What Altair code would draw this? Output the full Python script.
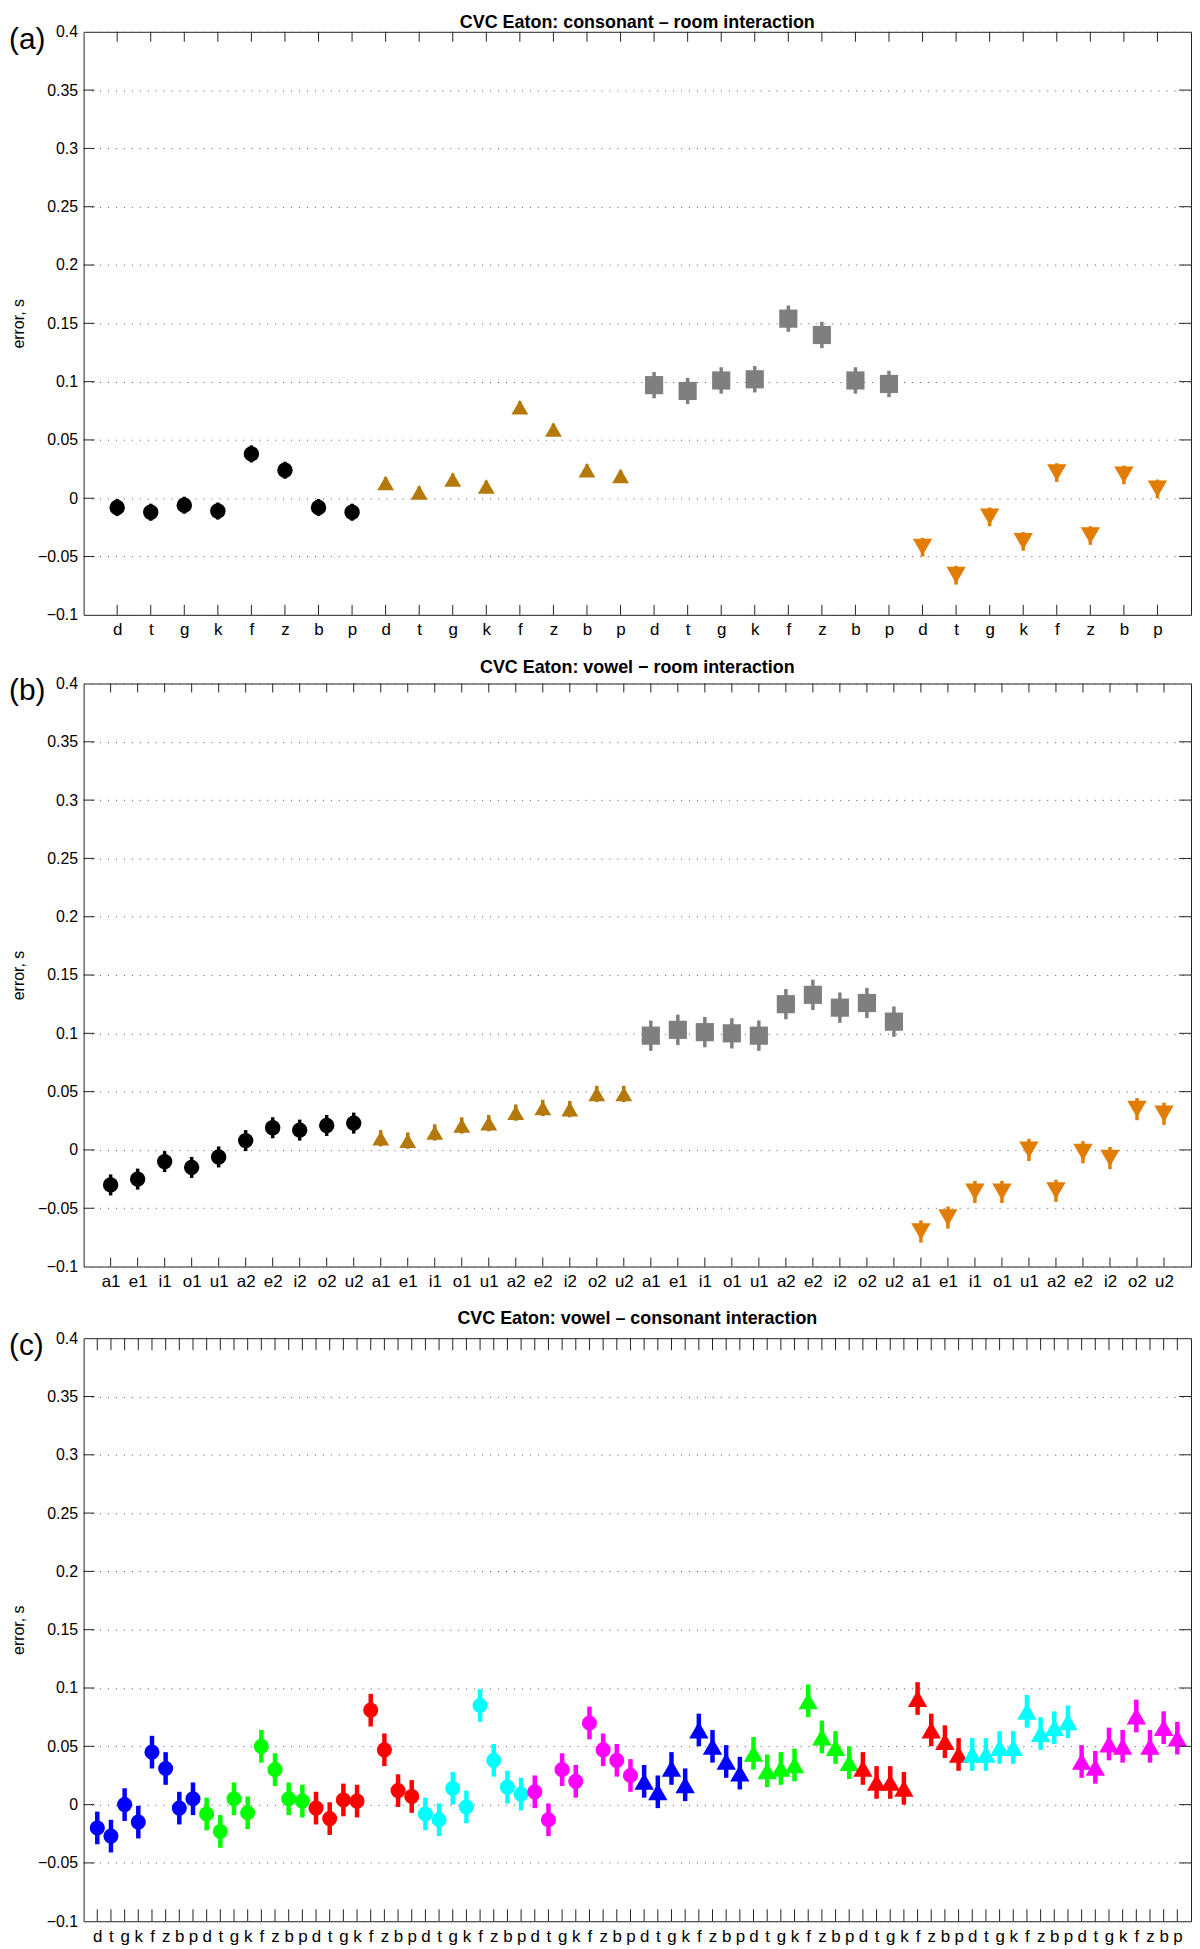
import altair as alt
import pandas as pd

FONT = "Liberation Sans"

# ---------------- Panel (a): consonant x room ----------------
cons = ["d", "t", "g", "k", "f", "z", "b", "p"]
a_series = ["room1", "room2", "room3", "room4"]
a_room1 = [-0.008, -0.012, -0.006, -0.011, 0.038, 0.024, -0.008, -0.012]
a_room2 = [0.013, 0.005, 0.016, 0.010, 0.078, 0.059, 0.024, 0.019]
a_room3 = [0.097, 0.092, 0.101, 0.102, 0.154, 0.140, 0.101, 0.098]
a_room4 = [-0.042, -0.066, -0.016, -0.037, 0.022, -0.032, 0.020, 0.008]
a_err = [0.0073, 0.005, 0.0113, 0.008]

# ---------------- Panel (b): vowel x room ----------------
vows = ["a1", "e1", "i1", "o1", "u1", "a2", "e2", "i2", "o2", "u2"]
b_room1 = [-0.030, -0.025, -0.010, -0.015, -0.006, 0.008, 0.019, 0.017, 0.021, 0.023]
b_room2 = [0.010, 0.008, 0.015, 0.021, 0.023, 0.032, 0.036, 0.035, 0.048, 0.048]
b_room3 = [0.098, 0.103, 0.101, 0.100, 0.098, 0.125, 0.133, 0.122, 0.126, 0.110]
b_room4 = [-0.070, -0.058, -0.036, -0.036, 0.000, -0.035, -0.002, -0.007, 0.035, 0.031]
b_err = [0.009, 0.007, 0.013, 0.0095]

# ---------------- Panel (c): vowel x consonant ----------------
c_a1 = [-0.020, -0.027, 0.000, -0.015, 0.045, 0.031, -0.003, 0.005]
c_e1 = [-0.008, -0.023, 0.005, -0.007, 0.050, 0.030, 0.005, 0.003]
c_i1 = [-0.003, -0.012, 0.004, 0.003, 0.081, 0.047, 0.012, 0.007]
c_o1 = [-0.008, -0.013, 0.014, -0.002, 0.085, 0.038, 0.015, 0.009]
c_u1 = [0.011, -0.013, 0.030, 0.020, 0.070, 0.047, 0.038, 0.025]
c_a2 = [0.020, 0.011, 0.031, 0.017, 0.064, 0.050, 0.037, 0.027]
c_e2 = [0.044, 0.029, 0.031, 0.034, 0.089, 0.058, 0.049, 0.036]
c_i2 = [0.031, 0.019, 0.019, 0.014, 0.091, 0.064, 0.054, 0.043]
c_o2 = [0.043, 0.043, 0.049, 0.049, 0.080, 0.061, 0.066, 0.071]
c_u2 = [0.037, 0.032, 0.052, 0.050, 0.076, 0.050, 0.066, 0.057]
c_err = 0.014

y_ticks = [-0.1, -0.05, 0, 0.05, 0.1, 0.15, 0.2, 0.25, 0.3, 0.35, 0.4]
y_inner = [-0.05, 0, 0.05, 0.1, 0.15, 0.2, 0.25, 0.3, 0.35]

W = 1113
H = 586


def build_ab(series_vals, errs, labels_per_group):
    rows = []
    n = len(labels_per_group)
    for g, (name, vals) in enumerate(zip(a_series, series_vals)):
        for i, v in enumerate(vals):
            rows.append({"idx": g * n + i + 1, "y": v, "lo": v - errs[g],
                         "hi": v + errs[g], "col": name, "shp": name})
    return pd.DataFrame(rows)


df_a = build_ab([a_room1, a_room2, a_room3, a_room4], a_err, cons)
df_b = build_ab([b_room1, b_room2, b_room3, b_room4], b_err, vows)

c_groups = [c_a1, c_e1, c_i1, c_o1, c_u1, c_a2, c_e2, c_i2, c_o2, c_u2]
rows = []
for g, (vname, vals) in enumerate(zip(vows, c_groups)):
    for i, v in enumerate(vals):
        rows.append({"idx": g * 8 + i + 1, "y": v, "lo": v - c_err, "hi": v + c_err,
                     "col": vname[0], "shp": vname[1]})
df_c = pd.DataFrame(rows)

ab_colors = ["#000000", "#B5780A", "#7F7F7F", "#E27D04"]
ab_shapes = ["circle", "triangle-up", "square", "triangle-down"]
ab_sizes = [240, 380, 215, 380]

c_colors = ["#0000FF", "#00FF00", "#FF0000", "#00FFFF", "#FF00FF"]


def panel(df, labels, title, tag, tick_len, title_y, err_w,
          col_dom, col_rng, shp_dom, shp_rng, size_rng, xfs):
    N = len(labels)
    xs = alt.Scale(domain=[0, N + 1], nice=False, zero=False)
    ys = alt.Scale(domain=[-0.1, 0.4], nice=False, zero=False)
    expr = "[" + ",".join("'%s'" % l for l in labels) + "][datum.value - 1]"
    xaxis = alt.Axis(values=list(range(1, N + 1)), labelExpr=expr, ticks=False,
                     domain=False, grid=False, labelFontSize=xfs, labelPadding=7,
                     labelOverlap=False, labelFlush=False, title=None)
    yaxis = alt.Axis(values=y_ticks, format="~g", ticks=False, domain=False,
                     grid=True, gridDash=[1, 7], gridColor="#555", gridWidth=1,
                     labelFontSize=16, labelPadding=6, title="error, s",
                     titleFontSize=16, titleFontWeight="normal", titlePadding=11)
    color = alt.Color("col:N", scale=alt.Scale(domain=col_dom, range=col_rng), legend=None)
    X = alt.X("idx:Q", scale=xs, axis=xaxis)
    base = alt.Chart(df)
    bars = base.mark_rule(strokeWidth=err_w).encode(
        x=X,
        y=alt.Y("lo:Q", scale=ys, axis=yaxis),
        y2="hi:Q",
        color=color,
    )
    pts = base.mark_point(filled=True, opacity=1, strokeWidth=0).encode(
        x=X,
        y=alt.Y("y:Q", scale=ys, axis=yaxis),
        color=color,
        shape=alt.Shape("shp:N", scale=alt.Scale(domain=shp_dom, range=shp_rng), legend=None),
        size=alt.Size("shp:N", scale=alt.Scale(domain=shp_dom, range=size_rng), legend=None),
    )
    tdf = pd.DataFrame({"idx": list(range(1, N + 1))})
    top = alt.Chart(tdf).mark_rule(color="#222", strokeWidth=1).encode(
        x=X, y=alt.value(0), y2=alt.value(tick_len))
    bot = alt.Chart(tdf).mark_rule(color="#222", strokeWidth=1).encode(
        x=X, y=alt.value(H - tick_len), y2=alt.value(H))
    ydf = pd.DataFrame({"v": y_inner})
    left = alt.Chart(ydf).mark_rule(color="#222", strokeWidth=1).encode(
        y=alt.Y("v:Q", scale=ys, axis=yaxis), x=alt.value(0), x2=alt.value(11))
    right = alt.Chart(ydf).mark_rule(color="#222", strokeWidth=1).encode(
        y=alt.Y("v:Q", scale=ys, axis=yaxis), x=alt.value(W - 12), x2=alt.value(W))
    tagc = alt.Chart(pd.DataFrame({"t": [tag]})).mark_text(
        align="left", baseline="middle", fontSize=30, font=FONT, color="black"
    ).encode(text="t:N", x=alt.value(-75), y=alt.value(8))
    ttl = alt.Chart(pd.DataFrame({"t": [title]})).mark_text(
        align="center", baseline="middle", fontSize=18, fontWeight="bold",
        font=FONT, color="black"
    ).encode(text="t:N", x=alt.value(W / 2), y=alt.value(title_y))
    return alt.layer(bars, pts, top, bot, left, right, tagc, ttl).properties(
        width=W, height=H)


pa = panel(df_a, cons * 4, "CVC Eaton: consonant \u2013 room interaction", "(a)", 10, -9,
           3.5, a_series, ab_colors, a_series, ab_shapes, ab_sizes, 17)
pb = panel(df_b, vows * 4, "CVC Eaton: vowel \u2212 room interaction", "(b)", 9, -16,
           3.5, a_series, ab_colors, a_series, ab_shapes, ab_sizes, 17)
pc = panel(df_c, cons * 10, "CVC Eaton: vowel \u2013 consonant interaction", "(c)", 12, -19,
           4.5, ["a", "e", "i", "o", "u"], c_colors, ["1", "2"], ["circle", "triangle-up"],
           [230, 380], 17)

chart = alt.vconcat(pa, pb, pc, spacing=19).resolve_scale(
    x="independent", y="independent", color="independent",
    shape="independent", size="independent"
).properties(padding=0).configure_view(
    stroke="#222", strokeWidth=1
).configure_axis(
    labelFont=FONT, titleFont=FONT, labelColor="black", titleColor="black"
)

chart.save("out.html", embed_options={"renderer": "svg", "actions": False})
